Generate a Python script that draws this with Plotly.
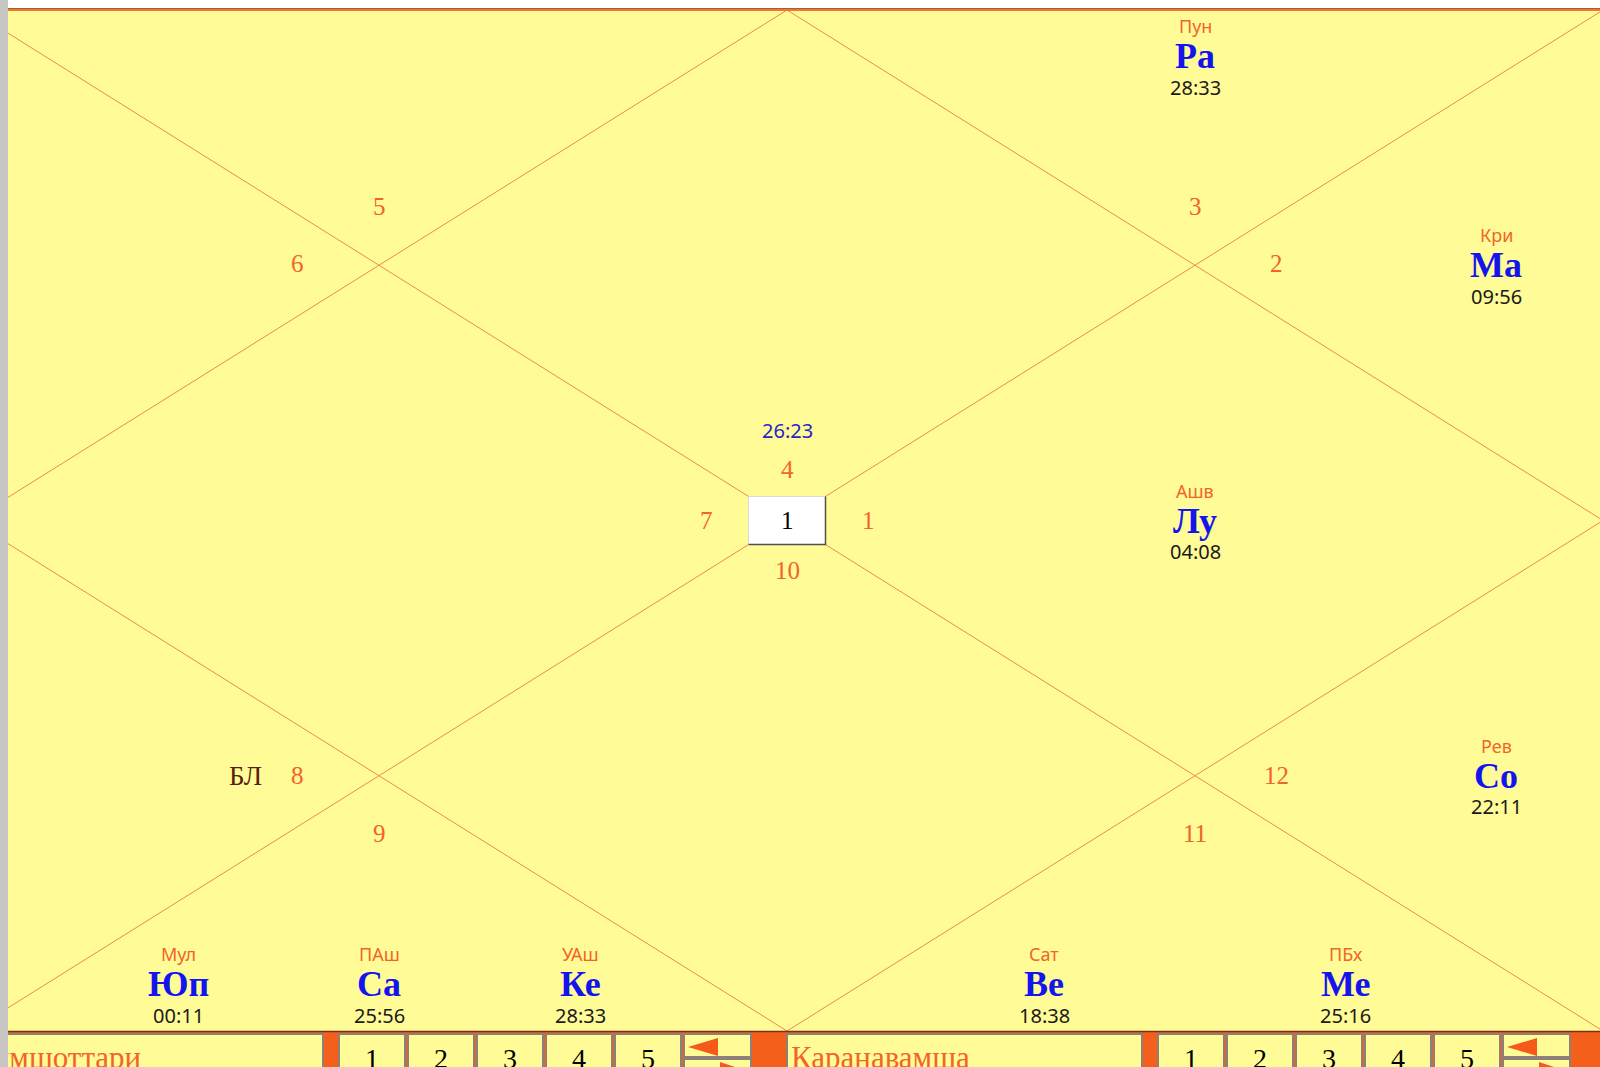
import plotly.graph_objects as go

# North-Indian chart, houses counted counter-clockwise from the top diamond
house_signs = [4, 5, 6, 7, 8, 9, 10, 11, 12, 1, 2, 3]

planets = ["Ра", "Ма", "Лу", "Со", "Ве", "Ме", "Юп", "Са", "Ке"]
nakshatras = ["Пун", "Кри", "Ашв", "Рев", "Сат", "ПБх", "Мул", "ПАш", "УАш"]
degrees = ["28:33", "09:56", "04:08", "22:11", "18:38", "25:16", "00:11", "25:56", "28:33"]
planet_house = [12, 11, 10, 9, 8, 8, 6, 6, 6]

asc_degree = "26:23"
marks = ["БЛ"]
mark_house = [5]
chart_number = "1"

dasha_names = ["Вимшоттари", "Каранавамша"]
level_buttons = ["1", "2", "3", "4", "5"]

# page / chart geometry (pixels)
W, H = 1600, 1067
TOP, BOT = 10, 1031
CX = 787
CY = (TOP + BOT) / 2
HW = 816
LEFT, RIGHT = CX - HW, CX + HW
QXL, QXR = CX - HW / 2, CX + HW / 2
QYT, QYB = TOP + (BOT - TOP) / 4, BOT - (BOT - TOP) / 4
SIDE = 709
SLOPE = (CY - TOP) / HW
BOX_HW = 38.5
BOX_HH = BOX_HW * SLOPE

YELLOW = "#FFFB96"
LINE = "#F0884A"
ORANGE_TXT = "#F2642A"
BLUE = "#1414EE"
SANS = "Noto Sans, Tahoma, sans-serif"
SERIF = "Liberation Serif, Times New Roman, serif"

anchor = {
    1: (CX, QYT), 2: (QXL, TOP + 46), 3: (CX - SIDE, QYT), 4: (QXL, CY),
    5: (CX - SIDE, QYB), 6: (QXL, BOT - 47), 7: (CX, QYB), 8: (QXR, BOT - 47),
    9: (CX + SIDE, QYB), 10: (QXR, CY), 11: (CX + SIDE, QYT), 12: (QXR, TOP + 46),
}
num_pos = {
    1: (CX, CY - 51), 2: (QXL, QYT - 59), 3: (QXL - 82, QYT - 2), 4: (CX - 81, CY),
    5: (QXL - 82, QYB), 6: (QXL, QYB + 58), 7: (CX, CY + 50), 8: (QXR, QYB + 58),
    9: (QXR + 81, QYB), 10: (CX + 81, CY), 11: (QXR + 81, QYT - 2), 12: (QXR, QYT - 59),
}

fig = go.Figure()

# chart lines
fig.add_trace(go.Scatter(x=[CX, LEFT, CX, RIGHT, CX], y=[TOP, CY, BOT, CY, TOP],
                         mode="lines", line=dict(color=LINE, width=1), hoverinfo="skip"))
fig.add_trace(go.Scatter(x=[LEFT, RIGHT, None, RIGHT, LEFT], y=[TOP, BOT, None, TOP, BOT],
                         mode="lines", line=dict(color=LINE, width=1), hoverinfo="skip"))

shapes = [
    dict(type="rect", x0=0, x1=W, y0=TOP, y1=BOT, fillcolor=YELLOW, line_width=0, layer="below"),
    dict(type="rect", x0=0, x1=W, y0=0, y1=8, fillcolor="white", line_width=0, layer="below"),
    dict(type="rect", x0=0, x1=W, y0=8, y1=11, fillcolor="#EE7A32", line_width=0),
    dict(type="line", x0=0, x1=W, y0=8.5, y1=8.5, line=dict(color="#A85A3A", width=1)),
    # centre box
    dict(type="rect", x0=CX - BOX_HW, x1=CX + BOX_HW, y0=CY - BOX_HH, y1=CY + BOX_HH,
         fillcolor="white", line=dict(color="#D8D8D8", width=1)),
    dict(type="path", path=f"M {CX - BOX_HW},{CY + BOX_HH} L {CX + BOX_HW},{CY + BOX_HH} L {CX + BOX_HW},{CY - BOX_HH}",
         line=dict(color="#505050", width=1.5)),
    # bottom panel
    dict(type="rect", x0=0, x1=W, y0=BOT, y1=H + 5, fillcolor="#F55F1C", line_width=0),
    dict(type="line", x0=0, x1=W, y0=BOT + 0.5, y1=BOT + 0.5, line=dict(color="#7A2E12", width=1.5)),
]

annotations = []


def label(x, y, text, size, color, family, bold=False, xanchor="center"):
    annotations.append(dict(x=x / W, y=1 - y / H, xref="paper", yref="paper", text=text,
                            showarrow=False, xanchor=xanchor, yanchor="middle",
                            font=dict(size=size, color=color, family=family,
                                      weight="bold" if bold else "normal")))


# bottom panel groups
GROUP_DX = 819
for g, name in enumerate(dasha_names):
    gx = 787 - GROUP_DX * (1 - g)
    shapes.append(dict(type="rect", x0=gx, x1=gx + 355, y0=1034, y1=H + 5, fillcolor=YELLOW,
                       line=dict(color="#8C8078", width=2)))
    label(gx + 2, 1057, name, 31, ORANGE_TXT, SERIF, xanchor="left")
    bx = gx + 371
    for i, b in enumerate(level_buttons):
        x0 = bx + 69 * i
        shapes.append(dict(type="rect", x0=x0, x1=x0 + 66, y0=1034, y1=H + 5, fillcolor=YELLOW,
                           line=dict(color="#8C8078", width=2)))
        label(x0 + 33, 1058, b, 28, "black", SERIF)
    ax = bx + 69 * 5
    shapes.append(dict(type="rect", x0=ax, x1=ax + 67, y0=1034, y1=1057, fillcolor=YELLOW,
                       line=dict(color="#8C8078", width=2)))
    shapes.append(dict(type="rect", x0=ax, x1=ax + 67, y0=1059, y1=H + 5, fillcolor=YELLOW,
                       line=dict(color="#8C8078", width=2)))
    shapes.append(dict(type="path", path=f"M {ax + 4},1047 L {ax + 34},1038 L {ax + 34},1056 Z",
                       fillcolor="#F55A1A", line_width=0))
    shapes.append(dict(type="path", path=f"M {ax + 36},1062 L {ax + 66},1072 L {ax + 36},1082 Z",
                       fillcolor="#F55A1A", line_width=0))

# sign numbers
for house, sign in enumerate(house_signs, start=1):
    x, y = num_pos[house]
    label(x, y, str(sign), 25, ORANGE_TXT, SERIF)

label(CX, CY, chart_number, 25, "black", SERIF)
label(CX, CY - 90, asc_degree, 20, "#2626C8", SANS)

for m, h in zip(marks, mark_house):
    x, y = num_pos[h]
    label(x - 52, y, m, 27, "#5A1E0C", SERIF)

# planets, spread across their house
for h in set(planet_house):
    idx = [i for i, ph in enumerate(planet_house) if ph == h]
    n = len(idx)
    cell = 603 / n
    ax_, ay_ = anchor[h]
    for k, i in enumerate(idx):
        x = ax_ + (k - (n - 1) / 2) * cell
        label(x, ay_ - 30, nakshatras[i], 18, ORANGE_TXT, SANS)
        label(x, ay_, planets[i], 36, BLUE, SERIF, bold=True)
        label(x, ay_ + 31, degrees[i], 20, "#1A1A1A", SANS)

# window border strip on the left
annotations.append(dict(x=0, y=1, xref="paper", yref="paper", xanchor="left", yanchor="top",
                        text="&nbsp;", showarrow=False, width=8, height=H, bgcolor="#C8C6C2",
                        borderpad=0, borderwidth=0, font=dict(size=2)))

fig.update_layout(
    width=W, height=H, margin=dict(l=0, r=0, t=0, b=0),
    paper_bgcolor="white", plot_bgcolor="white", showlegend=False,
    xaxis=dict(range=[0, W], visible=False, fixedrange=True),
    yaxis=dict(range=[H, 0], visible=False, fixedrange=True),
    shapes=shapes, annotations=annotations,
)

fig.write_html("out.html", config={"displayModeBar": False},
               post_script="document.body.style.margin='0';document.body.style.overflow='hidden';")
